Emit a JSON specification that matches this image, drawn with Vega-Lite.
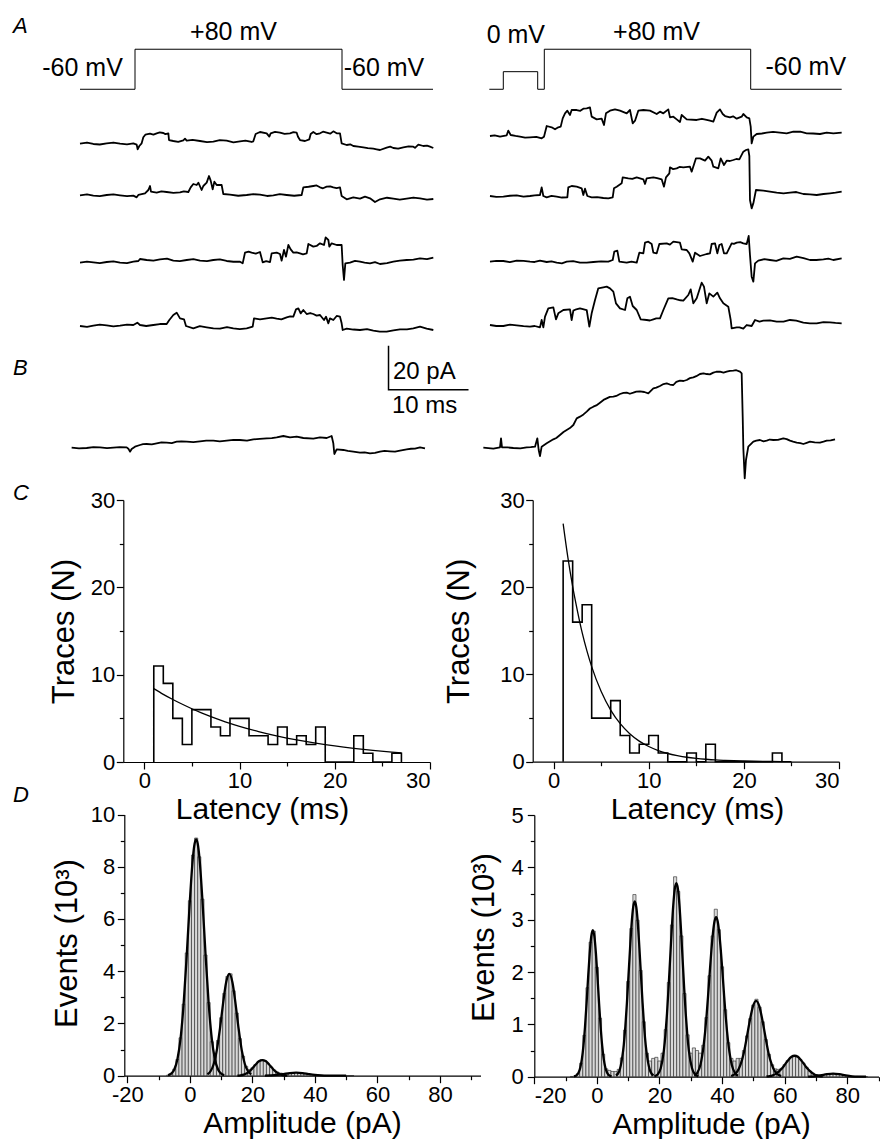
{
"$schema":"https://vega.github.io/schema/vega-lite/v6.json",
"width":880,"height":1139,"autosize":{"type":"none"},"padding":0,"background":"white",
"datasets":{
"protoL":[{"o":0,"x":-6.875,"y":177.6},{"o":1,"x":0,"y":177.6},{"o":2,"x":0,"y":195.8},{"o":3,"x":25.875,"y":195.8},{"o":4,"x":25.875,"y":177.6},{"o":5,"x":37.25,"y":177.6}],
"protoR":[{"o":0,"x":-6.875,"y":177.6},{"o":1,"x":-5.125,"y":177.6},{"o":2,"x":-5.125,"y":185.6},{"o":3,"x":-0.825,"y":185.6},{"o":4,"x":-0.825,"y":177.6},{"o":5,"x":0,"y":177.6},{"o":6,"x":0,"y":195.8},{"o":7,"x":25.8,"y":195.8},{"o":8,"x":25.8,"y":177.6},{"o":9,"x":37.175,"y":177.6}],
"sbar":[{"o":0,"x":31.69,"y":61},{"o":1,"x":31.69,"y":41},{"o":2,"x":41.69,"y":41}],
"tLetAB":[{"x":-15.25,"y":203.2,"txt":"A"},{"x":-15.25,"y":47.7,"txt":"B"}],
"tProtoL":[{"x":-6.56,"y":183.6,"txt":"-60 mV"},{"x":12.31,"y":200,"txt":"+80 mV"},{"x":31.125,"y":183.6,"txt":"-60 mV"}],
"tScale":[{"x":32.25,"y":45.9,"txt":"20 pA"},{"x":32.125,"y":30.45,"txt":"10 ms"}],
"tProtoR":[{"x":-3.56,"y":198.5,"txt":"0 mV"},{"x":14.03,"y":200,"txt":"+80 mV"},{"x":32.69,"y":184.1,"txt":"-60 mV"}],
"tLetCD":[{"x":-13.78,"y":30,"txt":"C"},{"x":-13.78,"y":-4.58,"txt":"D"}],
"abl":[
{"s":"L1","x":-6.875,"y":152.88},{"s":"L1","x":-5.21,"y":152.73},{"s":"L1","x":-3.54,"y":153.03},{"s":"L1","x":-1.875,"y":152.88},{"s":"L1","x":-0.21,"y":153.03},{"s":"L1","x":0.21,"y":152.42},{"s":"L1","x":0.33,"y":150.3},{"s":"L1","x":0.54,"y":151.82},{"s":"L1","x":0.83,"y":153.03},{"s":"L1","x":1.04,"y":155.76},{"s":"L1","x":1.29,"y":156.97},{"s":"L1","x":1.875,"y":157.42},{"s":"L1","x":2.71,"y":157.58},{"s":"L1","x":3.54,"y":157.73},{"s":"L1","x":4.17,"y":157.58},{"s":"L1","x":4.25,"y":154.54},{"s":"L1","x":4.79,"y":154.09},{"s":"L1","x":6.04,"y":154.39},{"s":"L1","x":6.25,"y":155.15},{"s":"L1","x":6.46,"y":154.24},{"s":"L1","x":8.125,"y":154.09},{"s":"L1","x":9.79,"y":153.79},{"s":"L1","x":11.46,"y":154.24},{"s":"L1","x":13.125,"y":153.94},{"s":"L1","x":14.58,"y":153.64},{"s":"L1","x":14.79,"y":153.94},{"s":"L1","x":15.08,"y":157.27},{"s":"L1","x":15.625,"y":158.18},{"s":"L1","x":16.46,"y":157.58},{"s":"L1","x":16.79,"y":156.06},{"s":"L1","x":16.96,"y":157.58},{"s":"L1","x":18.125,"y":157.88},{"s":"L1","x":19.375,"y":157.58},{"s":"L1","x":20.21,"y":157.88},{"s":"L1","x":20.375,"y":156.06},{"s":"L1","x":20.625,"y":154.54},{"s":"L1","x":21.25,"y":154.09},{"s":"L1","x":21.79,"y":154.85},{"s":"L1","x":21.96,"y":157.27},{"s":"L1","x":22.29,"y":158.18},{"s":"L1","x":23.125,"y":157.58},{"s":"L1","x":23.96,"y":157.88},{"s":"L1","x":24.79,"y":158.48},{"s":"L1","x":25.21,"y":157.58},{"s":"L1","x":25.625,"y":157.58},{"s":"L1","x":25.83,"y":153.03},{"s":"L1","x":26.46,"y":152.27},{"s":"L1","x":27.29,"y":151.82},{"s":"L1","x":28.54,"y":151.21},{"s":"L1","x":29.79,"y":150.6},{"s":"L1","x":30.625,"y":150.0},{"s":"L1","x":31.46,"y":151.06},{"s":"L1","x":32.29,"y":150.91},{"s":"L1","x":33.54,"y":151.21},{"s":"L1","x":34.79,"y":151.52},{"s":"L1","x":35.42,"y":152.42},{"s":"L1","x":36.04,"y":151.82},{"s":"L1","x":36.875,"y":151.52},{"s":"L1","x":37.29,"y":150.91},
{"s":"L1","x":-6.0,"y":153.4},{"s":"L1","x":-4.4,"y":152.5},{"s":"L1","x":-2.7,"y":153.4},{"s":"L1","x":-1.0,"y":152.6},{"s":"L1","x":2.3,"y":157.0},{"s":"L1","x":3.1,"y":158.0},{"s":"L1","x":3.8,"y":157.2},{"s":"L1","x":5.4,"y":153.7},{"s":"L1","x":7.2,"y":154.6},{"s":"L1","x":9.0,"y":153.6},{"s":"L1","x":10.6,"y":154.5},{"s":"L1","x":12.3,"y":153.5},{"s":"L1","x":13.8,"y":154.3},{"s":"L1","x":17.5,"y":158.2},{"s":"L1","x":18.7,"y":157.3},{"s":"L1","x":19.8,"y":158.1},{"s":"L1","x":22.7,"y":157.2},{"s":"L1","x":23.5,"y":158.3},{"s":"L1","x":24.4,"y":157.4},{"s":"L1","x":26.9,"y":152.6},{"s":"L1","x":27.9,"y":151.5},{"s":"L1","x":29.1,"y":150.9},{"s":"L1","x":30.2,"y":150.3},{"s":"L1","x":31.9,"y":151.5},{"s":"L1","x":32.9,"y":150.6},{"s":"L1","x":34.2,"y":151.6},{"s":"L1","x":35.0,"y":151.0},{"s":"L1","x":36.5,"y":152.0},
{"s":"L2","x":-6.875,"y":129.39},{"s":"L2","x":-5.21,"y":129.24},{"s":"L2","x":-3.54,"y":129.55},{"s":"L2","x":-1.875,"y":129.39},{"s":"L2","x":-0.21,"y":129.24},{"s":"L2","x":0.21,"y":128.48},{"s":"L2","x":0.42,"y":129.55},{"s":"L2","x":1.25,"y":130.3},{"s":"L2","x":1.67,"y":131.82},{"s":"L2","x":1.875,"y":133.64},{"s":"L2","x":2.0,"y":131.06},{"s":"L2","x":2.71,"y":130.61},{"s":"L2","x":3.96,"y":130.91},{"s":"L2","x":5.625,"y":130.76},{"s":"L2","x":6.67,"y":130.91},{"s":"L2","x":6.96,"y":133.03},{"s":"L2","x":7.29,"y":134.55},{"s":"L2","x":7.71,"y":134.09},{"s":"L2","x":7.92,"y":135.15},{"s":"L2","x":8.33,"y":131.82},{"s":"L2","x":8.54,"y":133.64},{"s":"L2","x":8.96,"y":135.15},{"s":"L2","x":9.25,"y":138.18},{"s":"L2","x":9.46,"y":136.06},{"s":"L2","x":9.71,"y":132.12},{"s":"L2","x":9.92,"y":135.61},{"s":"L2","x":10.21,"y":134.09},{"s":"L2","x":10.83,"y":134.09},{"s":"L2","x":11.04,"y":130.0},{"s":"L2","x":11.875,"y":129.7},{"s":"L2","x":13.96,"y":129.55},{"s":"L2","x":15.625,"y":129.7},{"s":"L2","x":17.29,"y":129.39},{"s":"L2","x":18.96,"y":129.55},{"s":"L2","x":20.83,"y":129.55},{"s":"L2","x":21.04,"y":133.03},{"s":"L2","x":22.29,"y":133.64},{"s":"L2","x":23.125,"y":133.03},{"s":"L2","x":23.96,"y":133.33},{"s":"L2","x":24.79,"y":133.03},{"s":"L2","x":25.625,"y":133.03},{"s":"L2","x":25.83,"y":129.09},{"s":"L2","x":26.46,"y":127.58},{"s":"L2","x":27.29,"y":128.48},{"s":"L2","x":28.125,"y":127.88},{"s":"L2","x":28.75,"y":128.79},{"s":"L2","x":29.375,"y":128.03},{"s":"L2","x":30.0,"y":126.36},{"s":"L2","x":30.625,"y":127.58},{"s":"L2","x":32.29,"y":127.88},{"s":"L2","x":33.96,"y":127.88},{"s":"L2","x":35.625,"y":128.03},{"s":"L2","x":37.29,"y":127.73},
{"s":"L2","x":-6.0,"y":129.8},{"s":"L2","x":-4.4,"y":129.0},{"s":"L2","x":-2.7,"y":129.8},{"s":"L2","x":-1.0,"y":129.0},{"s":"L2","x":3.3,"y":131.2},{"s":"L2","x":4.8,"y":130.5},{"s":"L2","x":6.1,"y":131.2},{"s":"L2","x":12.9,"y":129.2},{"s":"L2","x":14.8,"y":129.9},{"s":"L2","x":16.5,"y":129.1},{"s":"L2","x":18.1,"y":129.9},{"s":"L2","x":19.9,"y":129.2},{"s":"L2","x":21.7,"y":133.3},{"s":"L2","x":22.7,"y":133.9},{"s":"L2","x":23.5,"y":132.6},{"s":"L2","x":24.4,"y":133.5},{"s":"L2","x":25.2,"y":132.7},{"s":"L2","x":31.5,"y":128.3},{"s":"L2","x":33.1,"y":127.4},{"s":"L2","x":34.8,"y":128.4},{"s":"L2","x":36.5,"y":127.4},
{"s":"L3","x":-6.875,"y":98.79},{"s":"L3","x":-5.21,"y":98.94},{"s":"L3","x":-3.54,"y":99.09},{"s":"L3","x":-1.875,"y":98.79},{"s":"L3","x":-0.21,"y":99.24},{"s":"L3","x":0.42,"y":99.55},{"s":"L3","x":0.625,"y":100.45},{"s":"L3","x":1.46,"y":100.0},{"s":"L3","x":3.125,"y":100.3},{"s":"L3","x":4.79,"y":99.7},{"s":"L3","x":6.46,"y":100.0},{"s":"L3","x":8.125,"y":99.7},{"s":"L3","x":9.79,"y":100.0},{"s":"L3","x":11.46,"y":99.55},{"s":"L3","x":13.125,"y":99.24},{"s":"L3","x":13.46,"y":98.48},{"s":"L3","x":13.75,"y":103.33},{"s":"L3","x":14.58,"y":103.33},{"s":"L3","x":15.625,"y":103.64},{"s":"L3","x":15.96,"y":98.94},{"s":"L3","x":16.875,"y":99.09},{"s":"L3","x":17.08,"y":103.03},{"s":"L3","x":17.71,"y":103.33},{"s":"L3","x":18.125,"y":102.73},{"s":"L3","x":18.33,"y":99.7},{"s":"L3","x":18.625,"y":104.55},{"s":"L3","x":18.875,"y":101.52},{"s":"L3","x":19.17,"y":106.82},{"s":"L3","x":19.46,"y":104.85},{"s":"L3","x":19.79,"y":103.33},{"s":"L3","x":20.625,"y":103.03},{"s":"L3","x":21.46,"y":103.03},{"s":"L3","x":21.67,"y":107.27},{"s":"L3","x":22.29,"y":106.06},{"s":"L3","x":23.125,"y":107.58},{"s":"L3","x":23.625,"y":106.82},{"s":"L3","x":23.83,"y":110.3},{"s":"L3","x":24.17,"y":109.09},{"s":"L3","x":24.29,"y":106.06},{"s":"L3","x":24.58,"y":107.58},{"s":"L3","x":25.21,"y":106.82},{"s":"L3","x":25.83,"y":106.82},{"s":"L3","x":25.96,"y":97.73},{"s":"L3","x":26.125,"y":90.91},{"s":"L3","x":26.29,"y":98.48},{"s":"L3","x":26.875,"y":98.79},{"s":"L3","x":28.125,"y":99.24},{"s":"L3","x":29.375,"y":98.48},{"s":"L3","x":30.625,"y":98.18},{"s":"L3","x":32.29,"y":99.24},{"s":"L3","x":33.96,"y":100.0},{"s":"L3","x":35.625,"y":100.76},{"s":"L3","x":37.29,"y":101.06},
{"s":"L3","x":-6.0,"y":99.3},{"s":"L3","x":-4.4,"y":98.6},{"s":"L3","x":-2.7,"y":99.4},{"s":"L3","x":-1.0,"y":98.6},{"s":"L3","x":2.3,"y":99.7},{"s":"L3","x":4.0,"y":100.6},{"s":"L3","x":5.6,"y":99.5},{"s":"L3","x":7.3,"y":100.4},{"s":"L3","x":9.0,"y":99.5},{"s":"L3","x":10.6,"y":100.3},{"s":"L3","x":12.3,"y":99.2},{"s":"L3","x":14.2,"y":103.8},{"s":"L3","x":15.1,"y":102.9},{"s":"L3","x":16.4,"y":99.5},{"s":"L3","x":20.2,"y":103.5},{"s":"L3","x":21.0,"y":102.6},{"s":"L3","x":22.7,"y":106.4},{"s":"L3","x":27.5,"y":99.6},{"s":"L3","x":28.7,"y":98.8},{"s":"L3","x":30.0,"y":99.0},{"s":"L3","x":31.5,"y":98.6},{"s":"L3","x":33.1,"y":99.7},{"s":"L3","x":34.8,"y":100.2},{"s":"L3","x":36.5,"y":100.4},
{"s":"L4","x":-6.875,"y":70.0},{"s":"L4","x":-5.21,"y":70.15},{"s":"L4","x":-3.54,"y":70.3},{"s":"L4","x":-1.875,"y":70.15},{"s":"L4","x":-0.21,"y":70.45},{"s":"L4","x":0.29,"y":71.52},{"s":"L4","x":0.625,"y":70.45},{"s":"L4","x":2.29,"y":70.45},{"s":"L4","x":3.96,"y":70.91},{"s":"L4","x":4.29,"y":72.73},{"s":"L4","x":4.79,"y":75.0},{"s":"L4","x":5.21,"y":76.06},{"s":"L4","x":5.625,"y":73.48},{"s":"L4","x":6.125,"y":73.03},{"s":"L4","x":6.375,"y":70.0},{"s":"L4","x":7.29,"y":68.94},{"s":"L4","x":8.96,"y":69.39},{"s":"L4","x":10.625,"y":68.79},{"s":"L4","x":12.29,"y":68.94},{"s":"L4","x":13.96,"y":68.94},{"s":"L4","x":14.71,"y":69.7},{"s":"L4","x":14.875,"y":73.48},{"s":"L4","x":15.625,"y":73.03},{"s":"L4","x":16.46,"y":73.48},{"s":"L4","x":17.71,"y":73.33},{"s":"L4","x":18.96,"y":73.94},{"s":"L4","x":19.79,"y":74.24},{"s":"L4","x":20.125,"y":77.58},{"s":"L4","x":20.42,"y":78.03},{"s":"L4","x":20.71,"y":75.76},{"s":"L4","x":21.04,"y":77.27},{"s":"L4","x":21.46,"y":75.45},{"s":"L4","x":22.29,"y":75.45},{"s":"L4","x":23.125,"y":75.0},{"s":"L4","x":23.625,"y":72.73},{"s":"L4","x":23.875,"y":74.24},{"s":"L4","x":24.17,"y":71.21},{"s":"L4","x":24.375,"y":73.48},{"s":"L4","x":24.79,"y":72.73},{"s":"L4","x":25.21,"y":74.55},{"s":"L4","x":25.625,"y":74.24},{"s":"L4","x":25.83,"y":71.21},{"s":"L4","x":25.96,"y":68.18},{"s":"L4","x":26.46,"y":68.79},{"s":"L4","x":28.125,"y":68.18},{"s":"L4","x":29.79,"y":67.88},{"s":"L4","x":31.46,"y":67.42},{"s":"L4","x":33.125,"y":68.48},{"s":"L4","x":34.79,"y":68.94},{"s":"L4","x":35.625,"y":69.7},{"s":"L4","x":36.46,"y":68.79},{"s":"L4","x":37.29,"y":68.18},
{"s":"L4","x":-6.0,"y":69.6},{"s":"L4","x":-4.4,"y":70.6},{"s":"L4","x":-2.7,"y":69.8},{"s":"L4","x":-1.0,"y":70.6},{"s":"L4","x":1.4,"y":70.0},{"s":"L4","x":3.1,"y":70.9},{"s":"L4","x":8.1,"y":69.9},{"s":"L4","x":9.8,"y":68.9},{"s":"L4","x":11.5,"y":69.5},{"s":"L4","x":13.1,"y":68.6},{"s":"L4","x":17.1,"y":73.8},{"s":"L4","x":18.3,"y":73.0},{"s":"L4","x":19.4,"y":74.4},{"s":"L4","x":21.9,"y":75.9},{"s":"L4","x":22.7,"y":74.7},{"s":"L4","x":27.3,"y":68.4},{"s":"L4","x":29.0,"y":68.6},{"s":"L4","x":30.6,"y":67.4},{"s":"L4","x":32.3,"y":68.0},{"s":"L4","x":34.0,"y":68.5},
{"s":"BL","x":-7.92,"y":14.7},{"s":"BL","x":-6.04,"y":14.55},{"s":"BL","x":-4.375,"y":14.85},{"s":"BL","x":-2.71,"y":14.7},{"s":"BL","x":-1.04,"y":14.85},{"s":"BL","x":-0.83,"y":14.24},{"s":"BL","x":-0.625,"y":12.88},{"s":"BL","x":-0.42,"y":14.09},{"s":"BL","x":0.0,"y":15.15},{"s":"BL","x":0.625,"y":15.91},{"s":"BL","x":1.46,"y":16.36},{"s":"BL","x":2.71,"y":16.67},{"s":"BL","x":3.96,"y":16.97},{"s":"BL","x":5.21,"y":17.42},{"s":"BL","x":6.46,"y":17.42},{"s":"BL","x":8.125,"y":17.58},{"s":"BL","x":9.79,"y":17.88},{"s":"BL","x":11.46,"y":17.88},{"s":"BL","x":13.125,"y":18.18},{"s":"BL","x":14.79,"y":18.48},{"s":"BL","x":16.46,"y":18.94},{"s":"BL","x":17.71,"y":19.39},{"s":"BL","x":18.54,"y":20.0},{"s":"BL","x":19.375,"y":19.39},{"s":"BL","x":20.21,"y":19.7},{"s":"BL","x":21.04,"y":19.09},{"s":"BL","x":22.29,"y":18.79},{"s":"BL","x":23.125,"y":19.39},{"s":"BL","x":23.96,"y":19.09},{"s":"BL","x":24.58,"y":20.0},{"s":"BL","x":24.79,"y":16.67},{"s":"BL","x":24.92,"y":11.82},{"s":"BL","x":25.21,"y":13.94},{"s":"BL","x":26.04,"y":13.64},{"s":"BL","x":27.29,"y":12.88},{"s":"BL","x":28.125,"y":12.42},{"s":"BL","x":29.375,"y":12.12},{"s":"BL","x":30.625,"y":12.88},{"s":"BL","x":31.875,"y":13.03},{"s":"BL","x":33.125,"y":13.33},{"s":"BL","x":33.96,"y":13.94},{"s":"BL","x":35.0,"y":14.24},{"s":"BL","x":35.625,"y":14.85},{"s":"BL","x":36.25,"y":14.39},
{"s":"BL","x":-7.0,"y":14.4},{"s":"BL","x":-5.2,"y":14.9},{"s":"BL","x":-3.5,"y":14.5},{"s":"BL","x":-1.9,"y":14.9},{"s":"BL","x":1.0,"y":16.3},{"s":"BL","x":2.1,"y":16.2},{"s":"BL","x":3.3,"y":17.1},{"s":"BL","x":4.6,"y":16.8},{"s":"BL","x":5.8,"y":17.6},{"s":"BL","x":7.3,"y":17.2},{"s":"BL","x":8.9,"y":17.9},{"s":"BL","x":10.6,"y":17.6},{"s":"BL","x":12.3,"y":18.2},{"s":"BL","x":14.0,"y":17.9},{"s":"BL","x":15.6,"y":18.7},{"s":"BL","x":17.1,"y":19.0},{"s":"BL","x":26.6,"y":13.2},{"s":"BL","x":28.7,"y":12.6},{"s":"BL","x":30.0,"y":12.3},{"s":"BL","x":31.2,"y":13.2},{"s":"BL","x":32.5,"y":12.9},{"s":"BL","x":34.5,"y":14.2}
],
"abr":[
{"s":"R1","x":-6.79,"y":156.36},{"s":"R1","x":-5.54,"y":156.06},{"s":"R1","x":-4.7,"y":156.67},{"s":"R1","x":-4.5,"y":158.79},{"s":"R1","x":-4.2,"y":156.82},{"s":"R1","x":-3.04,"y":156.06},{"s":"R1","x":-1.79,"y":155.76},{"s":"R1","x":-0.33,"y":155.3},{"s":"R1","x":-0.04,"y":156.06},{"s":"R1","x":0.3,"y":160.91},{"s":"R1","x":0.92,"y":160.3},{"s":"R1","x":1.34,"y":159.39},{"s":"R1","x":1.75,"y":160.3},{"s":"R1","x":2.05,"y":160.61},{"s":"R1","x":2.3,"y":164.39},{"s":"R1","x":2.59,"y":166.67},{"s":"R1","x":2.88,"y":167.88},{"s":"R1","x":3.21,"y":165.91},{"s":"R1","x":3.42,"y":168.18},{"s":"R1","x":4.05,"y":168.18},{"s":"R1","x":4.88,"y":168.79},{"s":"R1","x":5.71,"y":169.39},{"s":"R1","x":5.92,"y":165.15},{"s":"R1","x":6.55,"y":163.94},{"s":"R1","x":7.17,"y":164.24},{"s":"R1","x":7.46,"y":161.36},{"s":"R1","x":7.71,"y":166.67},{"s":"R1","x":8.21,"y":167.88},{"s":"R1","x":8.84,"y":168.48},{"s":"R1","x":9.46,"y":167.88},{"s":"R1","x":10.3,"y":166.67},{"s":"R1","x":10.71,"y":168.18},{"s":"R1","x":11.05,"y":162.12},{"s":"R1","x":11.34,"y":163.33},{"s":"R1","x":11.75,"y":167.88},{"s":"R1","x":12.38,"y":168.18},{"s":"R1","x":13.21,"y":167.88},{"s":"R1","x":14.05,"y":166.36},{"s":"R1","x":14.46,"y":167.42},{"s":"R1","x":14.88,"y":166.67},{"s":"R1","x":15.5,"y":168.48},{"s":"R1","x":15.71,"y":164.85},{"s":"R1","x":16.13,"y":165.15},{"s":"R1","x":16.55,"y":163.94},{"s":"R1","x":16.96,"y":162.73},{"s":"R1","x":17.17,"y":165.91},{"s":"R1","x":17.8,"y":163.94},{"s":"R1","x":19.05,"y":163.64},{"s":"R1","x":20.3,"y":163.64},{"s":"R1","x":21.13,"y":162.88},{"s":"R1","x":21.55,"y":166.97},{"s":"R1","x":21.96,"y":168.48},{"s":"R1","x":22.3,"y":166.36},{"s":"R1","x":22.59,"y":165.45},{"s":"R1","x":23.21,"y":164.85},{"s":"R1","x":24.05,"y":164.24},{"s":"R1","x":24.67,"y":165.15},{"s":"R1","x":24.88,"y":166.36},{"s":"R1","x":25.3,"y":164.85},{"s":"R1","x":25.63,"y":164.39},{"s":"R1","x":25.8,"y":160.61},{"s":"R1","x":25.92,"y":153.03},{"s":"R1","x":26.13,"y":156.06},{"s":"R1","x":26.55,"y":157.27},{"s":"R1","x":27.8,"y":157.88},{"s":"R1","x":29.46,"y":157.88},{"s":"R1","x":31.13,"y":158.33},{"s":"R1","x":32.8,"y":157.58},{"s":"R1","x":34.46,"y":157.27},{"s":"R1","x":36.13,"y":157.58},{"s":"R1","x":37.17,"y":157.88},
{"s":"R1","x":-6.2,"y":156.6},{"s":"R1","x":-3.6,"y":156.4},{"s":"R1","x":-2.4,"y":155.6},{"s":"R1","x":-1.0,"y":156.0},{"s":"R1","x":4.5,"y":167.8},{"s":"R1","x":5.3,"y":168.9},{"s":"R1","x":19.7,"y":164.2},{"s":"R1","x":20.7,"y":163.3},{"s":"R1","x":23.6,"y":165.3},{"s":"R1","x":27.2,"y":157.5},{"s":"R1","x":28.6,"y":158.2},{"s":"R1","x":30.3,"y":157.6},{"s":"R1","x":32.0,"y":158.3},{"s":"R1","x":33.6,"y":157.5},{"s":"R1","x":35.3,"y":157.9},
{"s":"R2","x":-6.79,"y":129.09},{"s":"R2","x":-5.12,"y":128.79},{"s":"R2","x":-3.45,"y":129.39},{"s":"R2","x":-1.79,"y":129.09},{"s":"R2","x":-0.54,"y":129.55},{"s":"R2","x":-0.33,"y":133.03},{"s":"R2","x":-0.12,"y":129.09},{"s":"R2","x":0.3,"y":128.48},{"s":"R2","x":1.55,"y":128.79},{"s":"R2","x":2.88,"y":128.48},{"s":"R2","x":3.0,"y":133.03},{"s":"R2","x":3.42,"y":133.64},{"s":"R2","x":4.05,"y":133.33},{"s":"R2","x":4.67,"y":132.58},{"s":"R2","x":4.88,"y":129.55},{"s":"R2","x":5.09,"y":132.42},{"s":"R2","x":5.38,"y":129.09},{"s":"R2","x":5.92,"y":128.48},{"s":"R2","x":7.38,"y":128.18},{"s":"R2","x":8.55,"y":128.48},{"s":"R2","x":8.71,"y":132.58},{"s":"R2","x":9.05,"y":133.33},{"s":"R2","x":9.67,"y":134.85},{"s":"R2","x":9.8,"y":137.58},{"s":"R2","x":10.5,"y":137.12},{"s":"R2","x":11.55,"y":137.58},{"s":"R2","x":12.38,"y":136.67},{"s":"R2","x":12.59,"y":134.55},{"s":"R2","x":12.8,"y":137.12},{"s":"R2","x":13.63,"y":137.58},{"s":"R2","x":14.67,"y":136.67},{"s":"R2","x":14.96,"y":133.33},{"s":"R2","x":15.21,"y":137.58},{"s":"R2","x":15.63,"y":139.39},{"s":"R2","x":15.71,"y":142.12},{"s":"R2","x":16.55,"y":141.67},{"s":"R2","x":17.38,"y":142.12},{"s":"R2","x":18.21,"y":142.42},{"s":"R2","x":18.42,"y":140.15},{"s":"R2","x":18.96,"y":146.21},{"s":"R2","x":19.46,"y":146.21},{"s":"R2","x":20.09,"y":145.15},{"s":"R2","x":20.5,"y":146.97},{"s":"R2","x":20.92,"y":145.15},{"s":"R2","x":21.13,"y":142.42},{"s":"R2","x":21.75,"y":141.67},{"s":"R2","x":22.05,"y":146.21},{"s":"R2","x":22.46,"y":143.18},{"s":"R2","x":22.8,"y":145.15},{"s":"R2","x":23.63,"y":145.45},{"s":"R2","x":24.38,"y":145.76},{"s":"R2","x":24.88,"y":149.24},{"s":"R2","x":25.21,"y":150.0},{"s":"R2","x":25.5,"y":150.3},{"s":"R2","x":25.63,"y":147.27},{"s":"R2","x":25.71,"y":127.27},{"s":"R2","x":25.92,"y":123.48},{"s":"R2","x":26.13,"y":125.76},{"s":"R2","x":26.46,"y":131.82},{"s":"R2","x":27.38,"y":131.52},{"s":"R2","x":29.05,"y":130.61},{"s":"R2","x":30.71,"y":130.61},{"s":"R2","x":32.38,"y":130.0},{"s":"R2","x":34.05,"y":129.55},{"s":"R2","x":35.71,"y":130.3},{"s":"R2","x":37.17,"y":131.06},
{"s":"R2","x":-6.0,"y":128.7},{"s":"R2","x":-4.3,"y":129.2},{"s":"R2","x":-2.6,"y":128.8},{"s":"R2","x":-1.2,"y":129.4},{"s":"R2","x":0.9,"y":129.1},{"s":"R2","x":2.2,"y":128.4},{"s":"R2","x":6.6,"y":128.6},{"s":"R2","x":8.0,"y":128.0},{"s":"R2","x":11.0,"y":136.9},{"s":"R2","x":14.1,"y":137.2},{"s":"R2","x":16.1,"y":141.3},{"s":"R2","x":16.9,"y":142.3},{"s":"R2","x":23.2,"y":145.0},{"s":"R2","x":24.0,"y":145.9},{"s":"R2","x":28.2,"y":131.1},{"s":"R2","x":29.9,"y":130.3},{"s":"R2","x":31.5,"y":130.9},{"s":"R2","x":33.2,"y":129.8},{"s":"R2","x":34.9,"y":130.0},{"s":"R2","x":36.4,"y":130.6},
{"s":"R3","x":-6.79,"y":99.24},{"s":"R3","x":-5.12,"y":99.55},{"s":"R3","x":-3.45,"y":99.7},{"s":"R3","x":-1.79,"y":99.24},{"s":"R3","x":-0.54,"y":99.7},{"s":"R3","x":0.3,"y":99.09},{"s":"R3","x":1.55,"y":98.79},{"s":"R3","x":2.8,"y":99.24},{"s":"R3","x":4.46,"y":98.79},{"s":"R3","x":6.13,"y":99.09},{"s":"R3","x":8.0,"y":99.24},{"s":"R3","x":8.55,"y":100.0},{"s":"R3","x":8.75,"y":103.79},{"s":"R3","x":9.13,"y":104.24},{"s":"R3","x":9.38,"y":99.24},{"s":"R3","x":10.3,"y":98.79},{"s":"R3","x":11.55,"y":98.79},{"s":"R3","x":11.88,"y":103.33},{"s":"R3","x":12.38,"y":103.03},{"s":"R3","x":12.59,"y":107.88},{"s":"R3","x":13.0,"y":108.33},{"s":"R3","x":13.42,"y":107.27},{"s":"R3","x":13.63,"y":103.33},{"s":"R3","x":14.05,"y":103.03},{"s":"R3","x":14.38,"y":107.27},{"s":"R3","x":15.3,"y":107.58},{"s":"R3","x":16.13,"y":108.33},{"s":"R3","x":16.96,"y":107.88},{"s":"R3","x":17.17,"y":104.85},{"s":"R3","x":17.8,"y":104.55},{"s":"R3","x":18.13,"y":103.03},{"s":"R3","x":18.55,"y":99.24},{"s":"R3","x":18.84,"y":103.33},{"s":"R3","x":19.46,"y":101.82},{"s":"R3","x":20.3,"y":102.73},{"s":"R3","x":20.71,"y":103.03},{"s":"R3","x":20.92,"y":107.27},{"s":"R3","x":21.34,"y":107.58},{"s":"R3","x":21.63,"y":103.03},{"s":"R3","x":21.88,"y":106.82},{"s":"R3","x":22.17,"y":107.27},{"s":"R3","x":22.46,"y":103.03},{"s":"R3","x":22.8,"y":103.03},{"s":"R3","x":23.42,"y":107.58},{"s":"R3","x":24.05,"y":107.88},{"s":"R3","x":24.88,"y":107.58},{"s":"R3","x":25.3,"y":107.27},{"s":"R3","x":25.55,"y":110.91},{"s":"R3","x":25.71,"y":102.27},{"s":"R3","x":25.92,"y":92.42},{"s":"R3","x":26.13,"y":90.15},{"s":"R3","x":26.34,"y":98.48},{"s":"R3","x":26.75,"y":99.7},{"s":"R3","x":28.21,"y":100.0},{"s":"R3","x":29.88,"y":100.76},{"s":"R3","x":31.55,"y":101.52},{"s":"R3","x":33.21,"y":100.0},{"s":"R3","x":34.88,"y":100.3},{"s":"R3","x":36.13,"y":100.0},{"s":"R3","x":37.17,"y":100.76},
{"s":"R3","x":-6.0,"y":99.6},{"s":"R3","x":-4.3,"y":99.0},{"s":"R3","x":-2.6,"y":99.6},{"s":"R3","x":-1.2,"y":99.1},{"s":"R3","x":0.9,"y":99.4},{"s":"R3","x":2.2,"y":98.5},{"s":"R3","x":3.6,"y":99.5},{"s":"R3","x":5.3,"y":98.8},{"s":"R3","x":7.1,"y":99.4},{"s":"R3","x":10.9,"y":99.3},{"s":"R3","x":15.7,"y":107.0},{"s":"R3","x":23.7,"y":107.3},{"s":"R3","x":24.5,"y":108.1},{"s":"R3","x":27.5,"y":100.4},{"s":"R3","x":29.0,"y":99.6},{"s":"R3","x":30.7,"y":100.5},{"s":"R3","x":32.4,"y":100.9},{"s":"R3","x":34.0,"y":100.0},{"s":"R3","x":35.5,"y":100.6},
{"s":"R4","x":-6.79,"y":70.45},{"s":"R4","x":-5.12,"y":70.0},{"s":"R4","x":-3.45,"y":70.3},{"s":"R4","x":-1.79,"y":69.7},{"s":"R4","x":-0.54,"y":69.39},{"s":"R4","x":-0.33,"y":72.73},{"s":"R4","x":-0.12,"y":69.39},{"s":"R4","x":0.09,"y":74.24},{"s":"R4","x":0.5,"y":78.03},{"s":"R4","x":1.13,"y":78.48},{"s":"R4","x":1.46,"y":73.03},{"s":"R4","x":1.75,"y":75.76},{"s":"R4","x":2.38,"y":77.27},{"s":"R4","x":3.21,"y":77.58},{"s":"R4","x":3.42,"y":72.73},{"s":"R4","x":3.63,"y":76.97},{"s":"R4","x":4.46,"y":78.03},{"s":"R4","x":5.3,"y":77.27},{"s":"R4","x":5.63,"y":69.7},{"s":"R4","x":5.92,"y":75.76},{"s":"R4","x":6.34,"y":81.82},{"s":"R4","x":6.75,"y":87.12},{"s":"R4","x":7.38,"y":87.58},{"s":"R4","x":8.21,"y":87.12},{"s":"R4","x":8.63,"y":85.61},{"s":"R4","x":8.96,"y":80.3},{"s":"R4","x":9.46,"y":78.03},{"s":"R4","x":10.09,"y":77.27},{"s":"R4","x":10.38,"y":82.58},{"s":"R4","x":10.71,"y":83.33},{"s":"R4","x":11.05,"y":79.09},{"s":"R4","x":11.55,"y":77.27},{"s":"R4","x":12.05,"y":73.03},{"s":"R4","x":12.8,"y":72.73},{"s":"R4","x":13.63,"y":73.03},{"s":"R4","x":14.46,"y":73.48},{"s":"R4","x":14.88,"y":77.27},{"s":"R4","x":15.5,"y":82.58},{"s":"R4","x":16.55,"y":82.12},{"s":"R4","x":17.38,"y":81.52},{"s":"R4","x":18.0,"y":84.09},{"s":"R4","x":18.3,"y":86.67},{"s":"R4","x":18.63,"y":80.3},{"s":"R4","x":19.05,"y":82.58},{"s":"R4","x":19.38,"y":86.36},{"s":"R4","x":19.67,"y":89.7},{"s":"R4","x":19.96,"y":87.88},{"s":"R4","x":20.3,"y":80.3},{"s":"R4","x":20.63,"y":84.85},{"s":"R4","x":21.13,"y":83.33},{"s":"R4","x":21.63,"y":85.15},{"s":"R4","x":21.96,"y":82.58},{"s":"R4","x":22.38,"y":80.3},{"s":"R4","x":23.0,"y":78.79},{"s":"R4","x":23.3,"y":72.73},{"s":"R4","x":23.42,"y":68.94},{"s":"R4","x":24.05,"y":69.39},{"s":"R4","x":24.88,"y":68.79},{"s":"R4","x":25.3,"y":70.45},{"s":"R4","x":25.92,"y":70.0},{"s":"R4","x":26.34,"y":72.73},{"s":"R4","x":27.38,"y":72.42},{"s":"R4","x":29.05,"y":71.97},{"s":"R4","x":30.71,"y":72.73},{"s":"R4","x":32.38,"y":71.52},{"s":"R4","x":34.05,"y":71.21},{"s":"R4","x":35.71,"y":71.67},{"s":"R4","x":37.17,"y":71.21},
{"s":"R4","x":-6.0,"y":70.0},{"s":"R4","x":-4.3,"y":70.6},{"s":"R4","x":-2.6,"y":69.9},{"s":"R4","x":-1.2,"y":70.0},{"s":"R4","x":4.0,"y":77.6},{"s":"R4","x":7.8,"y":87.9},{"s":"R4","x":13.2,"y":72.5},{"s":"R4","x":14.0,"y":73.5},{"s":"R4","x":16.0,"y":82.7},{"s":"R4","x":17.0,"y":81.7},{"s":"R4","x":24.4,"y":69.4},{"s":"R4","x":26.9,"y":72.0},{"s":"R4","x":28.2,"y":72.6},{"s":"R4","x":29.9,"y":72.0},{"s":"R4","x":31.5,"y":72.4},{"s":"R4","x":33.2,"y":71.2},{"s":"R4","x":34.9,"y":71.8},{"s":"R4","x":36.4,"y":71.4},
{"s":"BR","x":-7.62,"y":14.7},{"s":"BR","x":-6.37,"y":14.24},{"s":"BR","x":-5.54,"y":14.85},{"s":"BR","x":-5.41,"y":18.94},{"s":"BR","x":-5.29,"y":14.85},{"s":"BR","x":-3.87,"y":14.55},{"s":"BR","x":-2.2,"y":14.85},{"s":"BR","x":-1.16,"y":15.15},{"s":"BR","x":-0.87,"y":18.94},{"s":"BR","x":-0.7,"y":13.64},{"s":"BR","x":-0.54,"y":10.91},{"s":"BR","x":-0.33,"y":15.15},{"s":"BR","x":0.3,"y":16.67},{"s":"BR","x":1.13,"y":18.48},{"s":"BR","x":1.96,"y":20.45},{"s":"BR","x":2.8,"y":22.73},{"s":"BR","x":3.63,"y":25.0},{"s":"BR","x":4.05,"y":28.03},{"s":"BR","x":4.46,"y":28.79},{"s":"BR","x":5.3,"y":31.06},{"s":"BR","x":6.13,"y":33.33},{"s":"BR","x":6.96,"y":35.15},{"s":"BR","x":7.8,"y":37.12},{"s":"BR","x":8.63,"y":37.88},{"s":"BR","x":9.46,"y":39.09},{"s":"BR","x":10.3,"y":39.7},{"s":"BR","x":11.13,"y":39.7},{"s":"BR","x":11.96,"y":40.3},{"s":"BR","x":13.0,"y":39.39},{"s":"BR","x":13.63,"y":41.67},{"s":"BR","x":14.46,"y":42.73},{"s":"BR","x":15.3,"y":43.94},{"s":"BR","x":16.13,"y":43.18},{"s":"BR","x":16.96,"y":45.15},{"s":"BR","x":17.8,"y":45.45},{"s":"BR","x":18.63,"y":46.67},{"s":"BR","x":19.46,"y":48.18},{"s":"BR","x":20.3,"y":48.18},{"s":"BR","x":21.13,"y":48.79},{"s":"BR","x":21.96,"y":49.24},{"s":"BR","x":22.8,"y":49.24},{"s":"BR","x":23.63,"y":49.7},{"s":"BR","x":24.46,"y":49.24},{"s":"BR","x":24.67,"y":48.48},{"s":"BR","x":24.8,"y":28.79},{"s":"BR","x":24.88,"y":14.39},{"s":"BR","x":25.05,"y":0.76},{"s":"BR","x":25.21,"y":9.09},{"s":"BR","x":25.5,"y":15.15},{"s":"BR","x":26.13,"y":17.42},{"s":"BR","x":26.96,"y":18.18},{"s":"BR","x":27.8,"y":17.88},{"s":"BR","x":28.63,"y":18.18},{"s":"BR","x":29.88,"y":18.94},{"s":"BR","x":30.71,"y":17.88},{"s":"BR","x":31.55,"y":16.97},{"s":"BR","x":32.38,"y":16.36},{"s":"BR","x":33.21,"y":17.42},{"s":"BR","x":34.46,"y":16.97},{"s":"BR","x":35.3,"y":17.88},{"s":"BR","x":36.34,"y":18.48},
{"s":"BR","x":-7.0,"y":14.5},{"s":"BR","x":-4.6,"y":14.8},{"s":"BR","x":-3.0,"y":14.4},{"s":"BR","x":-1.7,"y":14.9},{"s":"BR","x":1.5,"y":19.1},{"s":"BR","x":2.4,"y":21.8},{"s":"BR","x":3.2,"y":23.6},{"s":"BR","x":4.9,"y":29.8},{"s":"BR","x":5.7,"y":32.5},{"s":"BR","x":6.5,"y":33.9},{"s":"BR","x":7.4,"y":36.4},{"s":"BR","x":8.2,"y":37.8},{"s":"BR","x":9.0,"y":38.2},{"s":"BR","x":9.9,"y":39.6},{"s":"BR","x":10.7,"y":39.2},{"s":"BR","x":11.5,"y":40.2},{"s":"BR","x":12.5,"y":40.0},{"s":"BR","x":14.0,"y":42.0},{"s":"BR","x":14.9,"y":43.6},{"s":"BR","x":15.7,"y":43.4},{"s":"BR","x":16.5,"y":44.6},{"s":"BR","x":17.4,"y":45.0},{"s":"BR","x":18.2,"y":46.3},{"s":"BR","x":19.0,"y":47.2},{"s":"BR","x":19.9,"y":48.5},{"s":"BR","x":20.7,"y":48.0},{"s":"BR","x":21.5,"y":49.2},{"s":"BR","x":22.4,"y":48.8},{"s":"BR","x":23.2,"y":49.6},{"s":"BR","x":24.0,"y":49.9},{"s":"BR","x":26.5,"y":17.9},{"s":"BR","x":27.4,"y":17.6},{"s":"BR","x":28.2,"y":18.4},{"s":"BR","x":29.2,"y":18.2},{"s":"BR","x":30.3,"y":18.6},{"s":"BR","x":31.1,"y":17.4},{"s":"BR","x":32.0,"y":16.8},{"s":"BR","x":32.8,"y":16.9},{"s":"BR","x":33.8,"y":17.1},{"s":"BR","x":34.9,"y":17.4},{"s":"BR","x":35.8,"y":18.0}
],
"cl":[{"o":0,"x":1,"y":0},{"o":1,"x":1,"y":11},{"o":2,"x":2,"y":9},{"o":3,"x":3,"y":5},{"o":4,"x":4,"y":2},{"o":5,"x":5,"y":6},{"o":6,"x":6,"y":6},{"o":7,"x":7,"y":4},{"o":8,"x":8,"y":3},{"o":9,"x":9,"y":5},{"o":10,"x":10,"y":5},{"o":11,"x":11,"y":3},{"o":12,"x":12,"y":3},{"o":13,"x":13,"y":2},{"o":14,"x":14,"y":4},{"o":15,"x":15,"y":2},{"o":16,"x":16,"y":3},{"o":17,"x":17,"y":2},{"o":18,"x":18,"y":4},{"o":19,"x":19,"y":0},{"o":20,"x":20,"y":0},{"o":21,"x":21,"y":0},{"o":22,"x":22,"y":3},{"o":23,"x":23,"y":1},{"o":24,"x":24,"y":0},{"o":25,"x":25,"y":0},{"o":26,"x":26,"y":1},{"o":27,"x":27,"y":0}],
"clfit":[{"x":1,"y":8.4},{"x":2,"y":7.75},{"x":3,"y":7.16},{"x":4,"y":6.61},{"x":5,"y":6.1},{"x":6,"y":5.63},{"x":7,"y":5.2},{"x":8,"y":4.8},{"x":9,"y":4.43},{"x":10,"y":4.09},{"x":12,"y":3.49},{"x":14,"y":2.97},{"x":16,"y":2.53},{"x":18,"y":2.16},{"x":20,"y":1.84},{"x":22,"y":1.57},{"x":24,"y":1.34},{"x":26,"y":1.14},{"x":27,"y":1.05}],
"cr":[{"o":0,"x":1,"y":0},{"o":1,"x":1,"y":23},{"o":2,"x":2,"y":16},{"o":3,"x":3,"y":18},{"o":4,"x":4,"y":5},{"o":5,"x":5,"y":5},{"o":6,"x":6,"y":7},{"o":7,"x":7,"y":3},{"o":8,"x":8,"y":1},{"o":9,"x":9,"y":2},{"o":10,"x":10,"y":3},{"o":11,"x":11,"y":1},{"o":12,"x":12,"y":0},{"o":13,"x":13,"y":0},{"o":14,"x":14,"y":1},{"o":15,"x":15,"y":0},{"o":16,"x":16,"y":2},{"o":17,"x":17,"y":0},{"o":18,"x":18,"y":0},{"o":19,"x":19,"y":0},{"o":20,"x":20,"y":0},{"o":21,"x":21,"y":0},{"o":22,"x":22,"y":0},{"o":23,"x":23,"y":1},{"o":24,"x":24,"y":0}],
"crfit":[{"x":1,"y":27.3},{"x":1.5,"y":23.4},{"x":2,"y":20.1},{"x":2.5,"y":17.3},{"x":3,"y":14.8},{"x":3.5,"y":12.7},{"x":4,"y":10.9},{"x":5,"y":8.04},{"x":6,"y":5.92},{"x":7,"y":4.36},{"x":8,"y":3.21},{"x":9,"y":2.36},{"x":10,"y":1.74},{"x":11,"y":1.28},{"x":12,"y":0.94},{"x":13,"y":0.7},{"x":14,"y":0.51},{"x":15,"y":0.38},{"x":16,"y":0.28},{"x":17,"y":0.2},{"x":18,"y":0.15},{"x":20,"y":0.08},{"x":22,"y":0.04},{"x":24,"y":0.02},{"x":25,"y":0.01}],
"dlb":[{"x":-7.5,"x2":-6.5,"y":0.02},{"x":-6.5,"x2":-5.5,"y":0.08},{"x":-5.5,"x2":-4.5,"y":0.25},{"x":-4.5,"x2":-3.5,"y":0.62},{"x":-3.5,"x2":-2.5,"y":1.45},{"x":-2.5,"x2":-1.5,"y":2.74},{"x":-1.5,"x2":-0.5,"y":4.7},{"x":-0.5,"x2":0.5,"y":6.7},{"x":0.5,"x2":1.5,"y":8.45},{"x":1.5,"x2":2.5,"y":9.1},{"x":2.5,"x2":3.5,"y":8.38},{"x":3.5,"x2":4.5,"y":6.76},{"x":4.5,"x2":5.5,"y":4.62},{"x":5.5,"x2":6.5,"y":2.8},{"x":6.5,"x2":7.5,"y":1.3},{"x":7.5,"x2":8.5,"y":0.8},{"x":8.5,"x2":9.5,"y":1.35},{"x":9.5,"x2":10.5,"y":2.22},{"x":10.5,"x2":11.5,"y":3.15},{"x":11.5,"x2":12.5,"y":3.8},{"x":12.5,"x2":13.5,"y":3.9},{"x":13.5,"x2":14.5,"y":3.25},{"x":14.5,"x2":15.5,"y":2.4},{"x":15.5,"x2":16.5,"y":1.42},{"x":16.5,"x2":17.5,"y":0.75},{"x":17.5,"x2":18.5,"y":0.36},{"x":18.5,"x2":19.5,"y":0.24},{"x":19.5,"x2":20.5,"y":0.3},{"x":20.5,"x2":21.5,"y":0.43},{"x":21.5,"x2":22.5,"y":0.55},{"x":22.5,"x2":23.5,"y":0.61},{"x":23.5,"x2":24.5,"y":0.57},{"x":24.5,"x2":25.5,"y":0.46},{"x":25.5,"x2":26.5,"y":0.33},{"x":26.5,"x2":27.5,"y":0.22},{"x":27.5,"x2":28.5,"y":0.14},{"x":28.5,"x2":29.5,"y":0.1},{"x":29.5,"x2":30.5,"y":0.09},{"x":30.5,"x2":31.5,"y":0.09},{"x":31.5,"x2":32.5,"y":0.1},{"x":32.5,"x2":33.5,"y":0.11},{"x":33.5,"x2":34.5,"y":0.12},{"x":34.5,"x2":35.5,"y":0.11},{"x":35.5,"x2":36.5,"y":0.1},{"x":36.5,"x2":37.5,"y":0.08},{"x":37.5,"x2":38.5,"y":0.06},{"x":38.5,"x2":39.5,"y":0.045},{"x":39.5,"x2":40.5,"y":0.03},{"x":40.5,"x2":41.5,"y":0.02},{"x":41.5,"x2":42.5,"y":0.015},{"x":42.5,"x2":43.5,"y":0.012},{"x":43.5,"x2":44.5,"y":0.01},{"x":44.5,"x2":45.5,"y":0.008},{"x":45.5,"x2":46.5,"y":0.007},{"x":46.5,"x2":47.5,"y":0.006},{"x":47.5,"x2":48.5,"y":0.005},{"x":48.5,"x2":49.5,"y":0.005},{"x":49.5,"x2":50.5,"y":0.004},{"x":50.5,"x2":51.5,"y":0.004},{"x":51.5,"x2":52.5,"y":0.003}],
"dlf":[
{"g":1,"x":-7,"y":0.02},{"g":1,"x":-6,"y":0.08},{"g":1,"x":-5,"y":0.24},{"g":1,"x":-4,"y":0.63},{"g":1,"x":-3,"y":1.42},{"g":1,"x":-2,"y":2.77},{"g":1,"x":-1,"y":4.65},{"g":1,"x":0,"y":6.73},{"g":1,"x":1,"y":8.41},{"g":1,"x":1.5,"y":8.88},{"g":1,"x":2,"y":9.05},{"g":1,"x":2.5,"y":8.88},{"g":1,"x":3,"y":8.41},{"g":1,"x":4,"y":6.73},{"g":1,"x":5,"y":4.65},{"g":1,"x":6,"y":2.77},{"g":1,"x":7,"y":1.42},{"g":1,"x":8,"y":0.63},{"g":1,"x":9,"y":0.24},{"g":1,"x":10,"y":0.08},{"g":1,"x":11,"y":0.02},
{"g":2,"x":5.6,"y":0.055},{"g":2,"x":6.6,"y":0.17},{"g":2,"x":7.6,"y":0.44},{"g":2,"x":8.6,"y":0.97},{"g":2,"x":9.6,"y":1.79},{"g":2,"x":10.6,"y":2.76},{"g":2,"x":11.6,"y":3.58},{"g":2,"x":12.6,"y":3.9},{"g":2,"x":13.6,"y":3.58},{"g":2,"x":14.6,"y":2.76},{"g":2,"x":15.6,"y":1.79},{"g":2,"x":16.6,"y":0.97},{"g":2,"x":17.6,"y":0.44},{"g":2,"x":18.6,"y":0.17},{"g":2,"x":19.6,"y":0.055},
{"g":3,"x":15.2,"y":0.005},{"g":3,"x":16.2,"y":0.016},{"g":3,"x":17.2,"y":0.042},{"g":3,"x":18.2,"y":0.094},{"g":3,"x":19.2,"y":0.18},{"g":3,"x":20.2,"y":0.31},{"g":3,"x":21.2,"y":0.45},{"g":3,"x":22.2,"y":0.56},{"g":3,"x":23.2,"y":0.6},{"g":3,"x":24.2,"y":0.56},{"g":3,"x":25.2,"y":0.45},{"g":3,"x":26.2,"y":0.31},{"g":3,"x":27.2,"y":0.18},{"g":3,"x":28.2,"y":0.094},{"g":3,"x":29.2,"y":0.042},{"g":3,"x":30.2,"y":0.016},{"g":3,"x":31.2,"y":0.005},
{"g":4,"x":24,"y":0.002},{"g":4,"x":26,"y":0.009},{"g":4,"x":28,"y":0.028},{"g":4,"x":30,"y":0.062},{"g":4,"x":32,"y":0.102},{"g":4,"x":34,"y":0.12},{"g":4,"x":36,"y":0.102},{"g":4,"x":38,"y":0.062},{"g":4,"x":40,"y":0.028},{"g":4,"x":42,"y":0.009},{"g":4,"x":44,"y":0.002},{"g":4,"x":50,"y":0.0}
],
"drb":[{"x":-8.5,"x2":-7.5,"y":0.005},{"x":-7.5,"x2":-6.5,"y":0.01},{"x":-6.5,"x2":-5.5,"y":0.06},{"x":-5.5,"x2":-4.5,"y":0.26},{"x":-4.5,"x2":-3.5,"y":0.79},{"x":-3.5,"x2":-2.5,"y":1.7},{"x":-2.5,"x2":-1.5,"y":2.57},{"x":-1.5,"x2":-0.5,"y":2.78},{"x":-0.5,"x2":0.5,"y":2.09},{"x":0.5,"x2":1.5,"y":1.12},{"x":1.5,"x2":2.5,"y":0.43},{"x":2.5,"x2":3.5,"y":0.15},{"x":3.5,"x2":4.5,"y":0.12},{"x":4.5,"x2":5.5,"y":0.1},{"x":5.5,"x2":6.5,"y":0.1},{"x":6.5,"x2":7.5,"y":0.14},{"x":7.5,"x2":8.5,"y":0.36},{"x":8.5,"x2":9.5,"y":0.89},{"x":9.5,"x2":10.5,"y":1.82},{"x":10.5,"x2":11.5,"y":2.83},{"x":11.5,"x2":12.5,"y":3.48},{"x":12.5,"x2":13.5,"y":2.99},{"x":13.5,"x2":14.5,"y":2.03},{"x":14.5,"x2":15.5,"y":1.05},{"x":15.5,"x2":16.5,"y":0.45},{"x":16.5,"x2":17.5,"y":0.3},{"x":17.5,"x2":18.5,"y":0.35},{"x":18.5,"x2":19.5,"y":0.37},{"x":19.5,"x2":20.5,"y":0.3},{"x":20.5,"x2":21.5,"y":0.45},{"x":21.5,"x2":22.5,"y":0.9},{"x":22.5,"x2":23.5,"y":1.8},{"x":23.5,"x2":24.5,"y":2.9},{"x":24.5,"x2":25.5,"y":3.82},{"x":25.5,"x2":26.5,"y":3.54},{"x":26.5,"x2":27.5,"y":2.69},{"x":27.5,"x2":28.5,"y":1.59},{"x":28.5,"x2":29.5,"y":0.8},{"x":29.5,"x2":30.5,"y":0.45},{"x":30.5,"x2":31.5,"y":0.55},{"x":31.5,"x2":32.5,"y":0.5},{"x":32.5,"x2":33.5,"y":0.45},{"x":33.5,"x2":34.5,"y":0.6},{"x":34.5,"x2":35.5,"y":1.13},{"x":35.5,"x2":36.5,"y":1.93},{"x":36.5,"x2":37.5,"y":2.69},{"x":37.5,"x2":38.5,"y":3.2},{"x":38.5,"x2":39.5,"y":2.81},{"x":39.5,"x2":40.5,"y":2.1},{"x":40.5,"x2":41.5,"y":1.28},{"x":41.5,"x2":42.5,"y":0.65},{"x":42.5,"x2":43.5,"y":0.35},{"x":43.5,"x2":44.5,"y":0.3},{"x":44.5,"x2":45.5,"y":0.35},{"x":45.5,"x2":46.5,"y":0.35},{"x":46.5,"x2":47.5,"y":0.5},{"x":47.5,"x2":48.5,"y":0.78},{"x":48.5,"x2":49.5,"y":1.11},{"x":49.5,"x2":50.5,"y":1.37},{"x":50.5,"x2":51.5,"y":1.48},{"x":51.5,"x2":52.5,"y":1.33},{"x":52.5,"x2":53.5,"y":1.05},{"x":53.5,"x2":54.5,"y":0.71},{"x":54.5,"x2":55.5,"y":0.43},{"x":55.5,"x2":56.5,"y":0.23},{"x":56.5,"x2":57.5,"y":0.15},{"x":57.5,"x2":58.5,"y":0.14},{"x":58.5,"x2":59.5,"y":0.16},{"x":59.5,"x2":60.5,"y":0.23},{"x":60.5,"x2":61.5,"y":0.31},{"x":61.5,"x2":62.5,"y":0.37},{"x":62.5,"x2":63.5,"y":0.4},{"x":63.5,"x2":64.5,"y":0.39},{"x":64.5,"x2":65.5,"y":0.33},{"x":65.5,"x2":66.5,"y":0.26},{"x":66.5,"x2":67.5,"y":0.18},{"x":67.5,"x2":68.5,"y":0.11},{"x":68.5,"x2":69.5,"y":0.07},{"x":69.5,"x2":70.5,"y":0.04},{"x":70.5,"x2":71.5,"y":0.035},{"x":71.5,"x2":72.5,"y":0.035},{"x":72.5,"x2":73.5,"y":0.045},{"x":73.5,"x2":74.5,"y":0.055},{"x":74.5,"x2":75.5,"y":0.06},{"x":75.5,"x2":76.5,"y":0.06},{"x":76.5,"x2":77.5,"y":0.055},{"x":77.5,"x2":78.5,"y":0.045},{"x":78.5,"x2":79.5,"y":0.03},{"x":79.5,"x2":80.5,"y":0.02},{"x":80.5,"x2":81.5,"y":0.015},{"x":81.5,"x2":82.5,"y":0.01},{"x":82.5,"x2":83.5,"y":0.008},{"x":83.5,"x2":84.5,"y":0.006},{"x":84.5,"x2":85.5,"y":0.005},{"x":85.5,"x2":86.5,"y":0.004}],
"drf":[
{"g":1,"x":-7.3,"y":0.006},{"g":1,"x":-6.3,"y":0.037},{"g":1,"x":-5.8,"y":0.084},{"g":1,"x":-5.3,"y":0.176},{"g":1,"x":-4.8,"y":0.336},{"g":1,"x":-4.3,"y":0.59},{"g":1,"x":-3.8,"y":0.95},{"g":1,"x":-3.3,"y":1.4},{"g":1,"x":-2.8,"y":1.9},{"g":1,"x":-2.3,"y":2.35},{"g":1,"x":-1.8,"y":2.68},{"g":1,"x":-1.3,"y":2.8},{"g":1,"x":-0.8,"y":2.68},{"g":1,"x":-0.3,"y":2.35},{"g":1,"x":0.2,"y":1.9},{"g":1,"x":0.7,"y":1.4},{"g":1,"x":1.2,"y":0.95},{"g":1,"x":1.7,"y":0.59},{"g":1,"x":2.2,"y":0.336},{"g":1,"x":2.7,"y":0.176},{"g":1,"x":3.2,"y":0.084},{"g":1,"x":3.7,"y":0.037},{"g":1,"x":4.7,"y":0.006},
{"g":2,"x":6.1,"y":0.023},{"g":2,"x":7.1,"y":0.1},{"g":2,"x":8.1,"y":0.37},{"g":2,"x":8.6,"y":0.61},{"g":2,"x":9.1,"y":0.96},{"g":2,"x":9.6,"y":1.41},{"g":2,"x":10.1,"y":1.93},{"g":2,"x":10.6,"y":2.45},{"g":2,"x":11.1,"y":2.92},{"g":2,"x":11.6,"y":3.24},{"g":2,"x":12.1,"y":3.35},{"g":2,"x":12.6,"y":3.24},{"g":2,"x":13.1,"y":2.92},{"g":2,"x":13.6,"y":2.45},{"g":2,"x":14.1,"y":1.93},{"g":2,"x":14.6,"y":1.41},{"g":2,"x":15.1,"y":0.96},{"g":2,"x":15.6,"y":0.61},{"g":2,"x":16.1,"y":0.37},{"g":2,"x":17.1,"y":0.1},{"g":2,"x":18.1,"y":0.023},
{"g":3,"x":18.4,"y":0.008},{"g":3,"x":19.4,"y":0.041},{"g":3,"x":20.4,"y":0.16},{"g":3,"x":21.4,"y":0.5},{"g":3,"x":21.9,"y":0.8},{"g":3,"x":22.4,"y":1.2},{"g":3,"x":22.9,"y":1.69},{"g":3,"x":23.4,"y":2.24},{"g":3,"x":23.9,"y":2.79},{"g":3,"x":24.4,"y":3.27},{"g":3,"x":24.9,"y":3.59},{"g":3,"x":25.4,"y":3.7},{"g":3,"x":25.9,"y":3.59},{"g":3,"x":26.4,"y":3.27},{"g":3,"x":26.9,"y":2.79},{"g":3,"x":27.4,"y":2.24},{"g":3,"x":27.9,"y":1.69},{"g":3,"x":28.4,"y":1.2},{"g":3,"x":28.9,"y":0.8},{"g":3,"x":29.4,"y":0.5},{"g":3,"x":30.4,"y":0.16},{"g":3,"x":31.4,"y":0.041},{"g":3,"x":32.4,"y":0.008},
{"g":4,"x":31.1,"y":0.019},{"g":4,"x":32.1,"y":0.074},{"g":4,"x":33.1,"y":0.23},{"g":4,"x":34.1,"y":0.59},{"g":4,"x":34.6,"y":0.86},{"g":4,"x":35.1,"y":1.2},{"g":4,"x":35.6,"y":1.6},{"g":4,"x":36.1,"y":2.02},{"g":4,"x":36.6,"y":2.42},{"g":4,"x":37.1,"y":2.75},{"g":4,"x":37.6,"y":2.97},{"g":4,"x":38.1,"y":3.05},{"g":4,"x":38.6,"y":2.97},{"g":4,"x":39.1,"y":2.75},{"g":4,"x":39.6,"y":2.42},{"g":4,"x":40.1,"y":2.02},{"g":4,"x":40.6,"y":1.6},{"g":4,"x":41.1,"y":1.2},{"g":4,"x":41.6,"y":0.86},{"g":4,"x":42.1,"y":0.59},{"g":4,"x":43.1,"y":0.23},{"g":4,"x":44.1,"y":0.074},{"g":4,"x":45.1,"y":0.019},
{"g":5,"x":42.9,"y":0.013},{"g":5,"x":43.9,"y":0.039},{"g":5,"x":44.9,"y":0.1},{"g":5,"x":45.9,"y":0.23},{"g":5,"x":46.9,"y":0.44},{"g":5,"x":47.9,"y":0.75},{"g":5,"x":48.9,"y":1.08},{"g":5,"x":49.9,"y":1.35},{"g":5,"x":50.9,"y":1.45},{"g":5,"x":51.9,"y":1.35},{"g":5,"x":52.9,"y":1.08},{"g":5,"x":53.9,"y":0.75},{"g":5,"x":54.9,"y":0.44},{"g":5,"x":55.9,"y":0.23},{"g":5,"x":56.9,"y":0.1},{"g":5,"x":57.9,"y":0.039},{"g":5,"x":58.9,"y":0.013},
{"g":6,"x":54.2,"y":0.0044},{"g":6,"x":55.2,"y":0.011},{"g":6,"x":56.2,"y":0.026},{"g":6,"x":57.2,"y":0.054},{"g":6,"x":58.2,"y":0.1},{"g":6,"x":59.2,"y":0.16},{"g":6,"x":60.2,"y":0.24},{"g":6,"x":61.2,"y":0.32},{"g":6,"x":62.2,"y":0.38},{"g":6,"x":63.2,"y":0.4},{"g":6,"x":64.2,"y":0.38},{"g":6,"x":65.2,"y":0.32},{"g":6,"x":66.2,"y":0.24},{"g":6,"x":67.2,"y":0.16},{"g":6,"x":68.2,"y":0.1},{"g":6,"x":69.2,"y":0.054},{"g":6,"x":70.2,"y":0.026},{"g":6,"x":71.2,"y":0.011},{"g":6,"x":72.2,"y":0.0044},
{"g":7,"x":67.5,"y":0.002},{"g":7,"x":69.5,"y":0.008},{"g":7,"x":71.5,"y":0.025},{"g":7,"x":73.5,"y":0.048},{"g":7,"x":75.5,"y":0.06},{"g":7,"x":77.5,"y":0.048},{"g":7,"x":79.5,"y":0.025},{"g":7,"x":81.5,"y":0.008},{"g":7,"x":83.5,"y":0.002},{"g":7,"x":86,"y":0.0}
]
},
"layer":[
{
"encoding":{
"x":{"field":"x","type":"quantitative","scale":{"domain":[-6.875,37.25],"range":[80,433],"nice":false,"zero":false},"axis":null},
"y":{"field":"y","type":"quantitative","scale":{"domain":[0,200],"range":[480,40],"nice":false,"zero":false},"axis":null}
},
"layer":[
{"data":{"name":"protoL"},"mark":{"type":"line","strokeWidth":1,"color":"black"},"encoding":{"order":{"field":"o","type":"quantitative"}}},
{"data":{"name":"abl"},"mark":{"type":"line","strokeWidth":1.8,"color":"black","strokeJoin":"round"},"encoding":{"detail":{"field":"s","type":"nominal"}}},
{"data":{"name":"sbar"},"mark":{"type":"line","strokeWidth":1.5,"color":"black"},"encoding":{"order":{"field":"o","type":"quantitative"}}},
{"data":{"name":"tLetAB"},"mark":{"type":"text","fontStyle":"italic","fontSize":22,"align":"left","baseline":"alphabetic","font":"Liberation Sans","color":"black"},"encoding":{"text":{"field":"txt","type":"nominal"}}},
{"data":{"name":"tProtoL"},"mark":{"type":"text","fontSize":25,"align":"center","baseline":"alphabetic","font":"Liberation Sans","color":"black"},"encoding":{"text":{"field":"txt","type":"nominal"}}},
{"data":{"name":"tScale"},"mark":{"type":"text","fontSize":24,"align":"left","baseline":"alphabetic","font":"Liberation Sans","color":"black"},"encoding":{"text":{"field":"txt","type":"nominal"}}}
]
},
{
"encoding":{
"x":{"field":"x","type":"quantitative","scale":{"domain":[-6.875,37.25],"range":[489.3,842.3],"nice":false,"zero":false},"axis":null},
"y":{"field":"y","type":"quantitative","scale":{"domain":[0,200],"range":[480,40],"nice":false,"zero":false},"axis":null}
},
"layer":[
{"data":{"name":"protoR"},"mark":{"type":"line","strokeWidth":1,"color":"black"},"encoding":{"order":{"field":"o","type":"quantitative"}}},
{"data":{"name":"abr"},"mark":{"type":"line","strokeWidth":1.8,"color":"black","strokeJoin":"round"},"encoding":{"detail":{"field":"s","type":"nominal"}}},
{"data":{"name":"tProtoR"},"mark":{"type":"text","fontSize":25,"align":"center","baseline":"alphabetic","font":"Liberation Sans","color":"black"},"encoding":{"text":{"field":"txt","type":"nominal"}}}
]
},
{
"encoding":{
"x":{"field":"x","type":"quantitative","scale":{"domain":[-2.2,30],"range":[123.3,430],"nice":false,"zero":false},
"axis":{"orient":"bottom","offset":-377,"values":[0,5,10,15,20,25,30],"labelExpr":"datum.value % 10 === 0 ? '' + datum.value : ''","tickSize":{"condition":{"test":"datum.value % 10 === 0","value":7},"value":4},"labelPadding":1.5,"labelOverlap":false,"title":"Latency (ms)","titleX":262,"titleY":56.5,"titleFontSize":30,"titleBaseline":"alphabetic","titleAlign":"center"}},
"y":{"field":"y","type":"quantitative","scale":{"domain":[0,30],"range":[762,500],"nice":false,"zero":false},
"axis":{"orient":"left","offset":-123.3,"values":[0,5,10,15,20,25,30],"labelExpr":"datum.value % 10 === 0 ? '' + datum.value : ''","tickSize":{"condition":{"test":"datum.value % 10 === 0","value":7},"value":4},"labelPadding":1.5,"labelOverlap":false,"title":"Traces (N)","titleX":-49.6,"titleBaseline":"alphabetic","titleAlign":"center"}}
},
"layer":[
{"data":{"name":"cl"},"mark":{"type":"line","interpolate":"step-after","strokeWidth":1.6,"color":"black"},"encoding":{"order":{"field":"o","type":"quantitative"}}},
{"data":{"name":"clfit"},"mark":{"type":"line","interpolate":"monotone","strokeWidth":1.3,"color":"black"}},
{"data":{"name":"tLetCD"},"mark":{"type":"text","fontStyle":"italic","fontSize":22,"align":"left","baseline":"alphabetic","font":"Liberation Sans","color":"black"},"encoding":{"text":{"field":"txt","type":"nominal"}}}
]
},
{
"encoding":{
"x":{"field":"x","type":"quantitative","scale":{"domain":[-2.2,30],"range":[532.7,839],"nice":false,"zero":false},
"axis":{"orient":"bottom","offset":-377.3,"values":[0,5,10,15,20,25,30],"labelExpr":"datum.value % 10 === 0 ? '' + datum.value : ''","tickSize":{"condition":{"test":"datum.value % 10 === 0","value":7},"value":4},"labelPadding":1.5,"labelOverlap":false,"title":"Latency (ms)","titleX":697,"titleY":56.5,"titleFontSize":30,"titleBaseline":"alphabetic","titleAlign":"center"}},
"y":{"field":"y","type":"quantitative","scale":{"domain":[0,30],"range":[761.7,500],"nice":false,"zero":false},
"axis":{"orient":"left","offset":-532.7,"values":[0,5,10,15,20,25,30],"labelExpr":"datum.value % 10 === 0 ? '' + datum.value : ''","tickSize":{"condition":{"test":"datum.value % 10 === 0","value":7},"value":4},"labelPadding":1.5,"labelOverlap":false,"title":"Traces (N)","titleX":-64,"titleBaseline":"alphabetic","titleAlign":"center"}}
},
"layer":[
{"data":{"name":"cr"},"mark":{"type":"line","interpolate":"step-after","strokeWidth":1.6,"color":"black"},"encoding":{"order":{"field":"o","type":"quantitative"}}},
{"data":{"name":"crfit"},"mark":{"type":"line","interpolate":"monotone","strokeWidth":1.3,"color":"black"}}
]
},
{
"encoding":{
"x":{"field":"x","type":"quantitative","scale":{"domain":[-21,93],"range":[124.3,480.5],"nice":false,"zero":false},
"axis":{"orient":"bottom","offset":-63.3,"values":[-20,-10,0,10,20,30,40,50,60,70,80,90],"labelExpr":"datum.value % 20 === 0 ? '' + datum.value : ''","tickSize":{"condition":{"test":"datum.value % 20 === 0","value":7},"value":4},"labelPadding":1.5,"labelOverlap":false,"title":"Amplitude (pA)","titleX":302,"titleY":57,"titleFontSize":30,"titleBaseline":"alphabetic","titleAlign":"center"}},
"y":{"field":"y","type":"quantitative","scale":{"domain":[0,10],"range":[1075.7,814.5],"nice":false,"zero":false},
"axis":{"orient":"left","offset":-124.3,"values":[0,1,2,3,4,5,6,7,8,9,10],"labelExpr":"datum.value % 2 === 0 ? '' + datum.value : ''","tickSize":{"condition":{"test":"datum.value % 2 === 0","value":7},"value":4},"labelPadding":2.5,"labelOverlap":false,"title":"Events (10³)","titleX":-47.6,"titleY":943,"titleBaseline":"alphabetic","titleAlign":"center"}}
},
"layer":[
{"data":{"name":"dlb"},"mark":{"type":"bar","fill":"#d9d9d9","stroke":"#222222","strokeWidth":0.6},"encoding":{"x2":{"field":"x2"},"y2":{"datum":0}}},
{"data":{"name":"dlf"},"mark":{"type":"line","interpolate":"monotone","strokeWidth":2.3,"color":"black"},"encoding":{"detail":{"field":"g","type":"nominal"}}}
]
},
{
"encoding":{
"x":{"field":"x","type":"quantitative","scale":{"domain":[-20,90],"range":[534.3,878.5],"nice":false,"zero":false},
"axis":{"orient":"bottom","offset":-62.3,"values":[-20,-10,0,10,20,30,40,50,60,70,80,90],"labelExpr":"datum.value % 20 === 0 ? '' + datum.value : ''","tickSize":{"condition":{"test":"datum.value % 20 === 0","value":7},"value":4},"labelPadding":1.5,"labelOverlap":false,"title":"Amplitude (pA)","titleX":711,"titleY":56.5,"titleFontSize":30,"titleBaseline":"alphabetic","titleAlign":"center"}},
"y":{"field":"y","type":"quantitative","scale":{"domain":[0,5],"range":[1076.7,815],"nice":false,"zero":false},
"axis":{"orient":"left","offset":-534.3,"values":[0,0.5,1,1.5,2,2.5,3,3.5,4,4.5,5],"labelExpr":"datum.value % 1 === 0 ? '' + datum.value : ''","tickSize":{"condition":{"test":"datum.value % 1 === 0","value":7},"value":4},"labelPadding":4,"labelOverlap":false,"title":"Events (10³)","titleX":-41,"titleY":937,"titleBaseline":"alphabetic","titleAlign":"center"}}
},
"layer":[
{"data":{"name":"drb"},"mark":{"type":"bar","fill":"#d9d9d9","stroke":"#222222","strokeWidth":0.6},"encoding":{"x2":{"field":"x2"},"y2":{"datum":0}}},
{"data":{"name":"drf"},"mark":{"type":"line","interpolate":"monotone","strokeWidth":2.3,"color":"black"},"encoding":{"detail":{"field":"g","type":"nominal"}}}
]
}
],
"resolve":{"scale":{"x":"independent","y":"independent"}},
"config":{
"view":{"stroke":null},
"axis":{"grid":false,"domainColor":"black","tickColor":"black","labelColor":"black","titleColor":"black","labelFont":"Liberation Sans","titleFont":"Liberation Sans","labelFontSize":22,"titleFontSize":31,"titleFontWeight":"normal","domainWidth":1.2,"tickWidth":1.2}
}
}
